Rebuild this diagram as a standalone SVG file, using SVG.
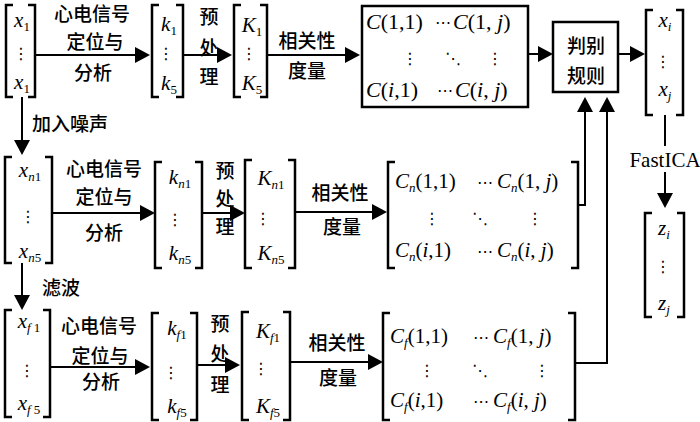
<svg xmlns="http://www.w3.org/2000/svg" width="700" height="422" viewBox="0 0 700 422">
<style>
.ln{stroke:#000;stroke-width:2;fill:none}
.br{stroke:#000;stroke-width:2.5;fill:none}
.bx{stroke:#000;stroke-width:2.5;fill:#fff}
.cn{font-family:"Noto Sans CJK SC","Noto Sans",sans-serif;font-size:19px;font-weight:500;fill:#000;text-anchor:middle}
.m{font-family:"Liberation Serif",serif;font-size:21px;font-style:italic;fill:#000;text-anchor:middle}
.mx{font-family:"Liberation Serif",serif;font-size:21px;fill:#000}
.big{font-size:22px}
.s{font-size:13px;font-style:normal}
.i{font-style:italic}
.d{font-family:"DejaVu Sans",sans-serif;font-size:16px;fill:#000;text-anchor:middle}
.r{font-family:"Liberation Serif",serif;font-size:21px;fill:#000;text-anchor:middle}
</style>
<defs>
<marker id="ah" viewBox="0 0 15 16" refX="3" refY="8" markerWidth="15" markerHeight="16" markerUnits="userSpaceOnUse" orient="auto">
<path d="M0,0 L15,8 L0,16 z" fill="#000"/>
</marker>
</defs>

<g id="connectors">
<path class="ln" d="M36,55 H138" marker-end="url(#ah)"/>
<path class="ln" d="M183,55 H220" marker-end="url(#ah)"/>
<path class="ln" d="M267,55 H348" marker-end="url(#ah)"/>
<path class="ln" d="M528,54 H541" marker-end="url(#ah)"/>
<path class="ln" d="M618,54 H633" marker-end="url(#ah)"/>
<path class="ln" d="M665,115 V146"/>
<path class="ln" d="M665,172 V196" marker-end="url(#ah)"/>
<path class="ln" d="M22,97 V143" marker-end="url(#ah)"/>
<path class="ln" d="M52,213 H143" marker-end="url(#ah)"/>
<path class="ln" d="M202,213 H233" marker-end="url(#ah)"/>
<path class="ln" d="M295,212 H375" marker-end="url(#ah)"/>
<path class="ln" d="M578,205 H585 V109" marker-end="url(#ah)"/>
<path class="ln" d="M22,263 V298" marker-end="url(#ah)"/>
<path class="ln" d="M50,367 H138" marker-end="url(#ah)"/>
<path class="ln" d="M197,365 H228" marker-end="url(#ah)"/>
<path class="ln" d="M290,362 H371" marker-end="url(#ah)"/>
<path class="ln" d="M575,363 H607 V109" marker-end="url(#ah)"/>
</g>

<g id="labels">
<text class="cn" x="92" y="21">心电信号</text>
<text class="cn" x="95" y="49">定位与</text>
<text class="cn" x="93" y="80">分析</text>
<text class="cn" x="209" y="24">预</text>
<text class="cn" x="209" y="55">处</text>
<text class="cn" x="209" y="84">理</text>
<text class="cn" x="307" y="48">相关性</text>
<text class="cn" x="307" y="78">度量</text>
<text class="cn" x="32" y="131" style="text-anchor:start">加入噪声</text>
<text class="cn" x="104" y="176">心电信号</text>
<text class="cn" x="104" y="204">定位与</text>
<text class="cn" x="104" y="240">分析</text>
<text class="cn" x="225" y="178">预</text>
<text class="cn" x="225" y="206">处</text>
<text class="cn" x="225" y="234">理</text>
<text class="cn" x="340" y="200">相关性</text>
<text class="cn" x="342" y="234">度量</text>
<text class="cn" x="42" y="295" style="text-anchor:start">滤波</text>
<text class="cn" x="99" y="333">心电信号</text>
<text class="cn" x="100" y="363">定位与</text>
<text class="cn" x="101" y="389">分析</text>
<text class="cn" x="220" y="331">预</text>
<text class="cn" x="220" y="361">处</text>
<text class="cn" x="220" y="392">理</text>
<text class="cn" x="337" y="350">相关性</text>
<text class="cn" x="338" y="385">度量</text>
<text class="r" x="665" y="167">FastICA</text>
</g>

<g id="x1">
<path class="br" d="M13,5 H6 V97 H13 M28,5 H35 V97 H28"/>
<text class="m" x="22" y="27">x<tspan class="s" dy="4">1</tspan></text>
<text class="d" x="21" y="59">⋮</text>
<text class="m" x="22" y="89">x<tspan class="s" dy="4">1</tspan></text>
</g>
<g id="k1">
<path class="br" d="M159,5 H152 V97 H159 M176,5 H183 V97 H176"/>
<text class="m" x="169" y="31">k<tspan class="s" dy="4">1</tspan></text>
<text class="d" x="166" y="59">⋮</text>
<text class="m" x="169" y="90">k<tspan class="s" dy="4">5</tspan></text>
</g>
<g id="K1">
<path class="br" d="M241,5 H234 V97 H241 M260,5 H267 V97 H260"/>
<text class="m" x="252" y="32">K<tspan class="s" dy="4">1</tspan></text>
<text class="d" x="249" y="59">⋮</text>
<text class="m" x="252" y="90">K<tspan class="s" dy="4">5</tspan></text>
</g>
<g id="C1">
<rect class="bx" x="362" y="6" width="166" height="101"/>
<text class="mx big" x="366" y="29"><tspan class="i">C</tspan>(1,1)</text>
<text class="d" x="443" y="28">⋯</text>
<text class="mx big" x="453" y="29"><tspan class="i">C</tspan>(1, <tspan class="i">j</tspan>)</text>
<text class="d" x="410" y="64">⋮</text>
<text class="d" x="453" y="64">⋱</text>
<text class="d" x="495" y="64">⋮</text>
<text class="mx big" x="366" y="97"><tspan class="i">C</tspan>(<tspan class="i">i</tspan>,1)</text>
<text class="d" x="445" y="96">⋯</text>
<text class="mx big" x="455" y="97"><tspan class="i">C</tspan>(<tspan class="i">i</tspan>, <tspan class="i">j</tspan>)</text>
</g>
<g id="rule">
<rect class="bx" x="553" y="22" width="65" height="70"/>
<text class="cn" x="586" y="53">判别</text>
<text class="cn" x="586" y="83">规则</text>
</g>
<g id="xij">
<path class="br" d="M653,10 H646 V115 H653 M676,10 H683 V115 H676"/>
<text class="m" x="665" y="27">x<tspan class="s i" dy="4">i</tspan></text>
<text class="d" x="663" y="67">⋮</text>
<text class="m" x="665" y="96">x<tspan class="s i" dy="4">j</tspan></text>
</g>
<g id="zij">
<path class="br" d="M652,213 H645 V317 H652 M677,213 H684 V317 H677"/>
<text class="m" x="664" y="235">z<tspan class="s i" dy="4">i</tspan></text>
<text class="d" x="663" y="272">⋮</text>
<text class="m" x="664" y="310">z<tspan class="s i" dy="4">j</tspan></text>
</g>

<g id="xn">
<path class="br" d="M12,157 H5 V263 H12 M45,157 H52 V263 H45"/>
<text class="m" x="30" y="177">x<tspan class="s" dy="4"><tspan class="i">n</tspan>1</tspan></text>
<text class="d" x="28" y="222">⋮</text>
<text class="m" x="30" y="258">x<tspan class="s" dy="4"><tspan class="i">n</tspan>5</tspan></text>
</g>
<g id="kn">
<path class="br" d="M162,162 H155 V268 H162 M195,162 H202 V268 H195"/>
<text class="m" x="180" y="184">k<tspan class="s" dy="4"><tspan class="i">n</tspan>1</tspan></text>
<text class="d" x="175" y="225">⋮</text>
<text class="m" x="180" y="260">k<tspan class="s" dy="4"><tspan class="i">n</tspan>5</tspan></text>
</g>
<g id="Kn">
<path class="br" d="M252,160 H245 V268 H252 M288,160 H295 V268 H288"/>
<text class="m" x="271" y="185">K<tspan class="s" dy="4"><tspan class="i">n</tspan>1</tspan></text>
<text class="d" x="263" y="224">⋮</text>
<text class="m" x="271" y="260">K<tspan class="s" dy="4"><tspan class="i">n</tspan>5</tspan></text>
</g>
<g id="Cn">
<path class="br" d="M395,162 H388 V268 H395 M571,162 H578 V268 H571"/>
<text class="mx" x="395" y="188"><tspan class="i">C</tspan><tspan class="s i" dy="4">n</tspan><tspan dy="-4">(1,1)</tspan></text>
<text class="d" x="485" y="188">⋯</text>
<text class="mx" x="497" y="188"><tspan class="i">C</tspan><tspan class="s i" dy="4">n</tspan><tspan dy="-4">(1, </tspan><tspan class="i">j</tspan>)</text>
<text class="d" x="432" y="224">⋮</text>
<text class="d" x="480" y="224">⋱</text>
<text class="d" x="535" y="224">⋮</text>
<text class="mx" x="395" y="257"><tspan class="i">C</tspan><tspan class="s i" dy="4">n</tspan><tspan dy="-4">(</tspan><tspan class="i">i</tspan>,1)</text>
<text class="d" x="485" y="257">⋯</text>
<text class="mx" x="497" y="257"><tspan class="i">C</tspan><tspan class="s i" dy="4">n</tspan><tspan dy="-4">(</tspan><tspan class="i">i</tspan>, <tspan class="i">j</tspan>)</text>
</g>

<g id="xf">
<path class="br" d="M12,310 H5 V417 H12 M43,310 H50 V417 H43"/>
<text class="m" x="29" y="328">x<tspan class="s" dy="4"><tspan class="i">f</tspan> 1</tspan></text>
<text class="d" x="27" y="376">⋮</text>
<text class="m" x="29" y="410">x<tspan class="s" dy="4"><tspan class="i">f</tspan> 5</tspan></text>
</g>
<g id="kf">
<path class="br" d="M159,313 H152 V420 H159 M190,313 H197 V420 H190"/>
<text class="m" x="177" y="335">k<tspan class="s" dy="4"><tspan class="i">f</tspan>1</tspan></text>
<text class="d" x="171" y="378">⋮</text>
<text class="m" x="177" y="413">k<tspan class="s" dy="4"><tspan class="i">f</tspan>5</tspan></text>
</g>
<g id="Kf">
<path class="br" d="M249,312 H242 V420 H249 M283,312 H290 V420 H283"/>
<text class="m" x="268" y="338">K<tspan class="s" dy="4"><tspan class="i">f</tspan>1</tspan></text>
<text class="d" x="261" y="374">⋮</text>
<text class="m" x="268" y="413">K<tspan class="s" dy="4"><tspan class="i">f</tspan>5</tspan></text>
</g>
<g id="Cf">
<path class="br" d="M390,313 H383 V420 H390 M568,313 H575 V420 H568"/>
<text class="mx" x="390" y="343"><tspan class="i">C</tspan><tspan class="s i" dy="4">f</tspan><tspan dy="-4">(1,1)</tspan></text>
<text class="d" x="481" y="343">⋯</text>
<text class="mx" x="493" y="343"><tspan class="i">C</tspan><tspan class="s i" dy="4">f</tspan><tspan dy="-4">(1, </tspan><tspan class="i">j</tspan>)</text>
<text class="d" x="427" y="376">⋮</text>
<text class="d" x="480" y="376">⋱</text>
<text class="d" x="542" y="376">⋮</text>
<text class="mx" x="390" y="407"><tspan class="i">C</tspan><tspan class="s i" dy="4">f</tspan><tspan dy="-4">(</tspan><tspan class="i">i</tspan>,1)</text>
<text class="d" x="481" y="407">⋯</text>
<text class="mx" x="493" y="407"><tspan class="i">C</tspan><tspan class="s i" dy="4">f</tspan><tspan dy="-4">(</tspan><tspan class="i">i</tspan>, <tspan class="i">j</tspan>)</text>
</g>
</svg>
